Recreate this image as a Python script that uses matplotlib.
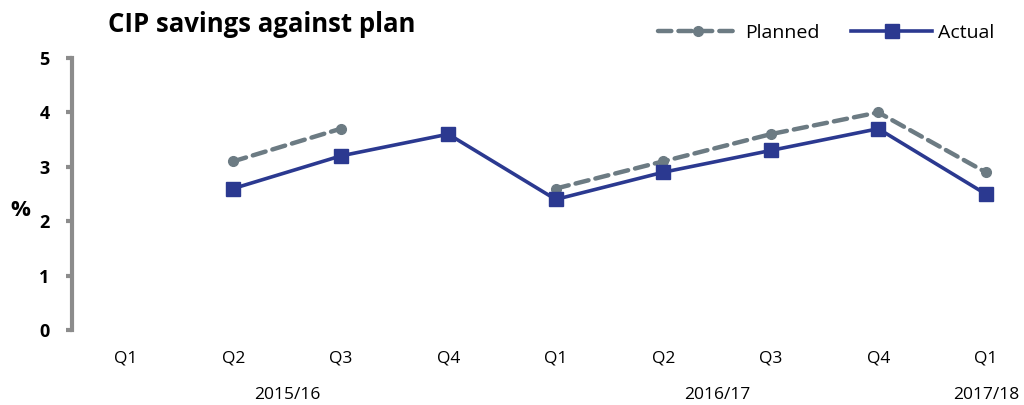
import numpy as np
import matplotlib as mpl
mpl.use('Agg')
import matplotlib.pyplot as plt
import matplotlib.transforms as mtransforms

quarters = ['Q1', 'Q2', 'Q3', 'Q4', 'Q1', 'Q2', 'Q3', 'Q4', 'Q1']
years = ['2015/16', '2016/17', '2017/18']
year_pos = [1.5, 5.5, 8]
planned = [np.nan, 3.1, 3.7, np.nan, 2.6, 3.1, 3.6, 4.0, 2.9]
actual = [np.nan, 2.6, 3.2, 3.6, 2.4, 2.9, 3.3, 3.7, 2.5]

plt.rcParams['font.family'] = ['Open Sans', 'DejaVu Sans']

fig = plt.figure(figsize=(10.24, 4.05), dpi=100)
ax = fig.add_axes([72 / 1024, 75 / 405, 948 / 1024, 272 / 405])

x = np.arange(len(quarters))
ax.plot(x, planned, color='#6c7b83', linestyle=(0, (3, 1.6)), linewidth=3.2,
        marker='o', markersize=7, label='Planned', dash_capstyle='round')
ax.plot(x, actual, color='#2b3990', linewidth=2.6, marker='s', markersize=10,
        label='Actual')

ax.set_xlim(-0.5, -0.5 + 948 / 107.5)
ax.set_ylim(0, 5)
ax.set_yticks(range(6))
ax.set_yticklabels([str(i) for i in range(6)], fontsize=13, fontweight='bold')
ax.set_xticks(x)
ax.set_xticklabels(quarters, fontsize=12.5)
ax.tick_params(axis='x', length=0, pad=15)
ax.tick_params(axis='y', length=4, width=3, color='#8c8c8c', pad=12)

for s in ['top', 'right', 'bottom']:
    ax.spines[s].set_visible(False)
ax.spines['left'].set_color('#8c8c8c')
ax.spines['left'].set_linewidth(3)

trans = mtransforms.blended_transform_factory(ax.transData, fig.transFigure)
for name, pos in zip(years, year_pos):
    ax.text(pos, 10 / 405, name, transform=trans, ha='center', va='center', fontsize=12.5)

fig.text(20 / 1024, 195 / 405, '%', ha='center', va='center', fontsize=16, fontweight='bold')
fig.text(108 / 1024, 380 / 405, 'CIP savings against plan', ha='left', va='center',
         fontsize=18.5, fontweight='bold')

fig.legend(loc='upper right', bbox_to_anchor=(1012 / 1024, 0.985), ncol=2, frameon=False,
           fontsize=14, handlelength=4.2, columnspacing=1.6, handletextpad=0.3)

fig.savefig('out.png', dpi=100)
